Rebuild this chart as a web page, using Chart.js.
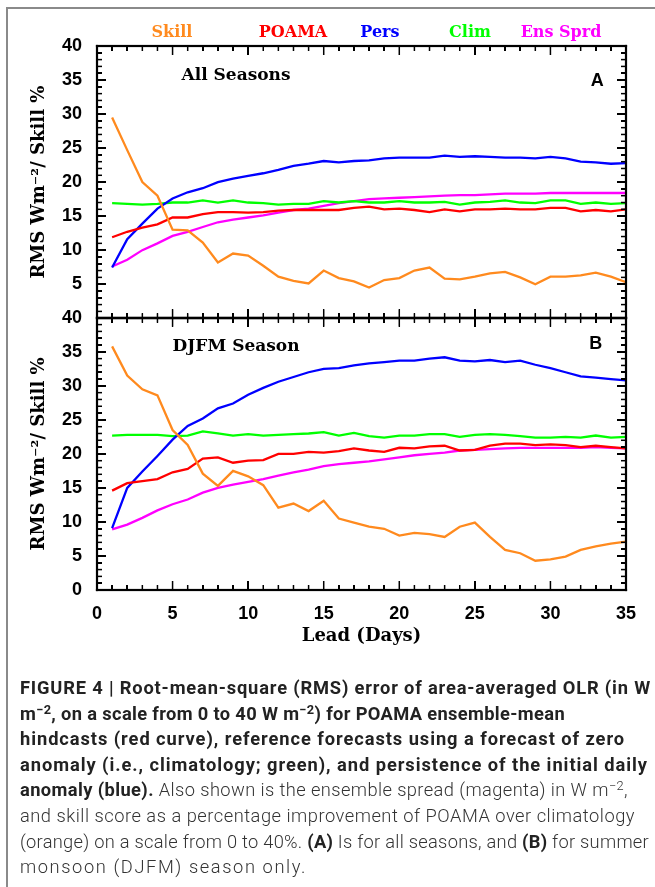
<!DOCTYPE html>
<html>
<head>
<meta charset="utf-8">
<script src="https://cdn.jsdelivr.net/npm/chart.js@4.4.1/dist/chart.umd.min.js"></script>
<style>
  html, body { margin: 0; padding: 0; background: #fff; }
  #page { position: relative; width: 655px; height: 887px; overflow: hidden; }
  #frame { position: absolute; left: 6px; top: 7px; width: 700px; height: 900px;
           border-left: 2px solid #8a8a8a; border-top: 2px solid #8a8a8a; }
  #wrapA { position: absolute; left: 0; top: 0; }
  #wrapB { position: absolute; left: 0; top: 292px; }
  #overlay { position: absolute; left: 0; top: 0; width: 655px; height: 887px; pointer-events: none; }
  #overlay div { position: absolute; background: #000; }
  #caption { position: absolute; left: 20px; top: 675px;
             font-family: Roboto, "Liberation Sans", sans-serif; font-size: 18.3px;
             line-height: 25.6px; color: #333; font-weight: 300; }
  #caption .ln { white-space: nowrap; width: max-content; }
  #caption b { font-weight: 700; color: #222; }
  #caption sup { font-size: 0.7em; line-height: 0; vertical-align: 0.45em; }
</style>
</head>
<body>
<div id="page">
  <div id="frame"></div>
  <div id="wrapA"><canvas id="chartA" width="655" height="344"></canvas></div>
  <div id="wrapB"><canvas id="chartB" width="655" height="368"></canvas></div>
  <div id="overlay"></div>
  <div id="caption">
    <div class="ln" data-w="631"><b>FIGURE 4 | Root-mean-square (RMS) error of area-averaged OLR (in W</b></div>
    <div class="ln" data-w="545"><b>m<sup>−2</sup>, on a scale from 0 to 40 W m<sup>−2</sup>) for POAMA ensemble-mean</b></div>
    <div class="ln" data-w="605"><b>hindcasts (red curve), reference forecasts using a forecast of zero</b></div>
    <div class="ln" data-w="628"><b>anomaly (i.e., climatology; green), and persistence of the initial daily</b></div>
    <div class="ln" data-w="608"><b>anomaly (blue).</b> Also shown is the ensemble spread (magenta) in W m<sup>−2</sup>,</div>
    <div class="ln" data-w="615">and skill score as a percentage improvement of POAMA over climatology</div>
    <div class="ln" data-w="629">(orange) on a scale from 0 to 40%. <b>(A)</b> Is for all seasons, and <b>(B)</b> for summer</div>
    <div class="ln" data-w="287">monsoon (DJFM) season only.</div>
  </div>
</div>
<script>
// lead days
const days = [1, 2, 3, 4, 5, 6, 7, 8, 9, 10, 11, 12, 13, 14, 15, 16, 17, 18,
  19, 20, 21, 22, 23, 24, 25, 26, 27, 28, 29, 30, 31, 32, 33, 34, 35];

const seriesNames = ['Skill', 'POAMA', 'Pers', 'Clim', 'Ens Sprd'];

// panel A - all seasons
const skillA = [29.5, 24.7, 20.0, 18.0, 13.0, 12.9, 11.1, 8.2, 9.5, 9.2, 7.7, 6.1, 5.5, 5.1, 7.0, 5.9, 5.4, 4.5,
  5.6, 5.9, 7.0, 7.45, 5.8, 5.7, 6.1, 6.6, 6.8, 6.0, 5.0, 6.1, 6.1, 6.3, 6.7, 6.1, 5.3];
const poamaA = [11.9, 12.7, 13.3, 13.8, 14.8, 14.8, 15.3, 15.6, 15.6, 15.5, 15.6, 15.8, 15.9, 15.9, 15.9, 15.9, 16.2, 16.4,
  16.0, 16.1, 15.9, 15.6, 16.0, 15.7, 16.0, 16.0, 16.1, 16.0, 16.0, 16.2, 16.2, 15.7, 15.9, 15.7, 16.0];
const persA = [7.45, 11.6, 13.9, 16.1, 17.6, 18.5, 19.1, 20.0, 20.5, 20.9, 21.3, 21.8, 22.4, 22.7, 23.1, 22.9, 23.1, 23.2,
  23.5, 23.6, 23.6, 23.6, 23.9, 23.7, 23.8, 23.7, 23.6, 23.6, 23.5, 23.7, 23.5, 23.0, 22.9, 22.7, 22.8];
const climA = [16.9, 16.8, 16.7, 16.8, 17.0, 17.0, 17.3, 17.0, 17.3, 17.0, 16.9, 16.7, 16.8, 16.8, 17.2, 17.0, 17.2, 17.0,
  17.0, 17.2, 17.0, 17.0, 17.1, 16.7, 17.0, 17.1, 17.3, 17.0, 16.9, 17.3, 17.3, 16.8, 17.0, 16.8, 16.9];
const sprdA = [7.6, 8.6, 10.0, 11.0, 12.1, 12.7, 13.4, 14.1, 14.5, 14.8, 15.1, 15.5, 15.9, 16.1, 16.5, 16.9, 17.2, 17.5,
  17.6, 17.7, 17.8, 17.9, 18.0, 18.1, 18.1, 18.2, 18.3, 18.3, 18.3, 18.4, 18.4, 18.4, 18.4, 18.4, 18.4];

// panel B - DJFM season
const skillB = [35.8, 31.5, 29.5, 28.6, 23.5, 21.3, 17.1, 15.3, 17.5, 16.7, 15.4, 12.1, 12.7, 11.6, 13.1, 10.5, 9.9, 9.3,
  9.0, 8.0, 8.4, 8.2, 7.8, 9.3, 9.9, 7.8, 5.9, 5.4, 4.3, 4.5, 4.9, 5.9, 6.4, 6.8, 7.1];
const poamaB = [14.6, 15.7, 16.0, 16.3, 17.3, 17.8, 19.3, 19.5, 18.7, 19.0, 19.1, 20.0, 20.0, 20.3, 20.2, 20.4, 20.8, 20.5,
  20.3, 20.9, 20.8, 21.1, 21.2, 20.5, 20.6, 21.2, 21.5, 21.5, 21.3, 21.4, 21.3, 21.0, 21.2, 21.0, 20.8];
const persB = [9.1, 15.0, 17.4, 19.7, 22.1, 24.1, 25.2, 26.7, 27.4, 28.7, 29.7, 30.6, 31.3, 32.0, 32.5, 32.6, 33.0, 33.3,
  33.5, 33.7, 33.7, 34.0, 34.2, 33.7, 33.6, 33.8, 33.5, 33.7, 33.1, 32.6, 32.0, 31.4, 31.2, 31.0, 30.8];
const climB = [22.7, 22.8, 22.8, 22.8, 22.6, 22.7, 23.3, 23.0, 22.7, 22.9, 22.7, 22.8, 22.9, 23.0, 23.2, 22.7, 23.1, 22.6,
  22.4, 22.7, 22.7, 22.9, 22.9, 22.5, 22.8, 22.9, 22.8, 22.6, 22.4, 22.4, 22.5, 22.4, 22.7, 22.4, 22.5];
const sprdB = [8.9, 9.6, 10.6, 11.7, 12.6, 13.3, 14.3, 15.0, 15.5, 15.9, 16.3, 16.8, 17.3, 17.7, 18.2, 18.5, 18.7, 18.9,
  19.2, 19.5, 19.8, 20.0, 20.2, 20.5, 20.6, 20.7, 20.8, 20.9, 20.9, 20.9, 20.9, 20.9, 21.0, 20.9, 20.8];

const colors = ['#ff8a1e', '#ff0000', '#0000ff', '#00ff00', '#ff00ff'];

// the little pieces of the box: edges and inward ticks, from the chart's own scales
function boxPieces(chart) {
  const a = chart.chartArea;
  const x = chart.scales.x;
  const y = chart.scales.y;
  const pieces = [];
  for (let d = 0; d <= 35; d++) {
    const px = x.getPixelForValue(d);
    const len = d % 5 === 0 ? 9 : 5;
    pieces.push([px - 0.75, a.top, 1.5, len]);
    pieces.push([px - 0.75, a.bottom - len, 1.5, len]);
  }
  for (let v = 0; v <= 40; v++) {
    const py = y.getPixelForValue(v);
    const len = v % 5 === 0 ? 9 : 5;
    pieces.push([a.left, py - 0.75, len, 1.5]);
    pieces.push([a.right - len, py - 0.75, len, 1.5]);
  }
  const w = 2.2;
  pieces.push([a.left - w / 2, a.top - w / 2, a.right - a.left + w, w]);
  pieces.push([a.left - w / 2, a.bottom - w / 2, a.right - a.left + w, w]);
  pieces.push([a.left - w / 2, a.top - w / 2, w, a.bottom - a.top + w]);
  pieces.push([a.right - w / 2, a.top - w / 2, w, a.bottom - a.top + w]);
  return pieces;
}

// box, season name, panel letter, coloured legend words
const decor = {
  id: 'decor',
  afterDraw(chart, args, opts) {
    const ctx = chart.ctx;
    const a = chart.chartArea;
    const x = chart.scales.x;
    const y = chart.scales.y;
    ctx.save();
    ctx.fillStyle = '#000';
    boxPieces(chart).forEach(p => ctx.fillRect(p[0], p[1], p[2], p[3]));
    ctx.textAlign = 'center';
    ctx.textBaseline = 'middle';
    ctx.font = 'bold 17px "DejaVu Serif"';
    ctx.fillText(opts.season, x.getPixelForValue(opts.seasonAt[0]), y.getPixelForValue(opts.seasonAt[1]));
    ctx.font = 'bold 18px "Liberation Sans"';
    ctx.fillText(opts.tag, x.getPixelForValue(opts.tagAt[0]), y.getPixelForValue(opts.tagAt[1]));
    if (opts.legendAt) {
      ctx.font = 'bold 16px "DejaVu Serif"';
      chart.data.datasets.forEach((ds, i) => {
        ctx.fillStyle = ds.borderColor;
        ctx.fillText(ds.label, x.getPixelForValue(opts.legendAt[i]), a.top - 13);
      });
    }
    ctx.restore();
  }
};

const tickFont = { family: 'Liberation Sans', weight: 'bold', size: 18 };
const titleFont = { family: 'DejaVu Serif', weight: 'bold', size: 18 };

function makeChart(id, series, cfg) {
  return new Chart(document.getElementById(id), {
    type: 'line',
    data: {
      labels: days,
      datasets: series.map((s, i) => ({
        label: seriesNames[i],
        data: s,
        borderColor: colors[i],
        backgroundColor: colors[i],
        borderWidth: 2.3,
        pointRadius: 0,
        tension: 0,
        fill: false
      }))
    },
    options: {
      responsive: false,
      animation: false,
      layout: { padding: cfg.padding },
      plugins: {
        legend: { display: false },
        tooltip: { enabled: false },
        decor: cfg.text
      },
      scales: {
        x: {
          type: 'linear',
          min: 0,
          max: 35,
          display: cfg.showX,
          grid: { display: false, drawTicks: false },
          border: { display: true, color: '#000', width: 2 },
          ticks: { stepSize: 5, padding: 13, color: '#000', font: tickFont, maxRotation: 0 },
          title: { display: cfg.showX, text: 'Lead (Days)', color: '#000',
                   font: { family: 'DejaVu Serif', weight: 'bold', size: 18 }, padding: { top: 0, bottom: 13 } },
          afterFit: s => { s.height = cfg.showX ? 70 : 0; }
        },
        y: {
          min: 0,
          max: 40,
          grid: { display: false, drawTicks: false },
          border: { display: true, color: '#000', width: 2 },
          ticks: {
            stepSize: 5, padding: 15, color: '#000', font: tickFont,
            callback: v => (cfg.hideZero && v === 0) ? '' : v
          },
          title: { display: true, text: 'RMS Wm⁻²/ Skill %', color: '#000', font: titleFont, padding: { top: 29, bottom: 0 } },
          afterFit: s => { s.width = 97; }
        }
      }
    },
    plugins: [decor]
  });
}

const chartA = makeChart('chartA', [skillA, poamaA, persA, climA, sprdA], {
  padding: { top: 46, right: 29, bottom: 2, left: 0 },
  showX: false,
  hideZero: true,
  text: { season: 'All Seasons', seasonAt: [9.2, 35.7], tag: 'A', tagAt: [33.1, 34.9],
          legendAt: [4.96, 12.97, 18.72, 24.68, 30.7] }
});

const chartB = makeChart('chartB', [skillB, poamaB, persB, climB, sprdB], {
  padding: { top: 18, right: 29, bottom: 0, left: 0 },
  showX: true,
  hideZero: false,
  text: { season: 'DJFM Season', seasonAt: [9.2, 35.8], tag: 'B', tagAt: [33.0, 36.1] }
});

// same box also laid over the page as plain divs
const overlay = document.getElementById('overlay');
[[chartA, 'wrapA'], [chartB, 'wrapB']].forEach(([chart, wrapId]) => {
  const top = document.getElementById(wrapId).offsetTop;
  boxPieces(chart).forEach(p => {
    const el = document.createElement('div');
    el.style.left = p[0] + 'px';
    el.style.top = (p[1] + top) + 'px';
    el.style.width = p[2] + 'px';
    el.style.height = p[3] + 'px';
    overlay.appendChild(el);
  });
});

// stretch each caption line to the width it has in the figure
document.querySelectorAll('#caption .ln').forEach(el => {
  const target = +el.dataset.w;
  const w = el.getBoundingClientRect().width;
  const n = el.textContent.length;
  el.style.letterSpacing = ((target - w) / n) + 'px';
});
</script>
</body>
</html>
